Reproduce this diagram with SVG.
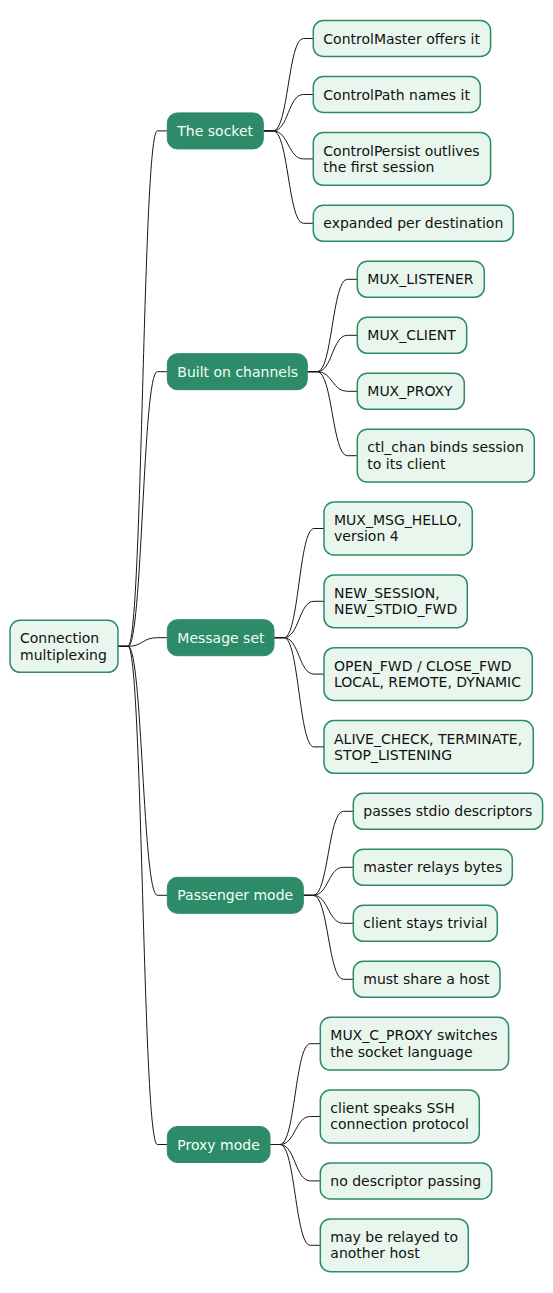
<svg xmlns="http://www.w3.org/2000/svg" width="553" height="1293" viewBox="0 0 553 1293">
<style>
text{font-family:"DejaVu Sans","Liberation Sans",sans-serif;font-size:14px}
.leaf rect,.root rect{fill:#E9F6EE;stroke:#2E8B69;stroke-width:1.5}
.leaf text,.root text{fill:#111111}
.branch rect{fill:#2E8B69;stroke:#2E8B69;stroke-width:1}
.branch text{fill:#F0FFF5}
#connectors path{fill:none;stroke:#181818;stroke-width:1}
</style>
<rect width="553" height="1293" fill="#FFFFFF"/>
<g id="connectors">
<path d="M118,646.3 L128,646.3 C142.6,646.3 142.6,130.9 157.3,130.9 L167.3,130.9"/>
<path d="M118,646.3 L128,646.3 C142.6,646.3 142.6,371.7 157.3,371.7 L167.3,371.7"/>
<path d="M118,646.3 L128,646.3 C142.6,646.3 142.6,637.7 157.3,637.7 L167.3,637.7"/>
<path d="M118,646.3 L128,646.3 C142.6,646.3 142.6,895.3 157.3,895.3 L167.3,895.3"/>
<path d="M118,646.3 L128,646.3 C142.6,646.3 142.6,1144.5 157.3,1144.5 L167.3,1144.5"/>
<path d="M263.3,130.9 L273.3,130.9 C288.3,130.9 288.3,38.5 303.3,38.5 L313.3,38.5"/>
<path d="M263.3,130.9 L273.3,130.9 C288.3,130.9 288.3,94.5 303.3,94.5 L313.3,94.5"/>
<path d="M263.3,130.9 L273.3,130.9 C288.3,130.9 288.3,158.9 303.3,158.9 L313.3,158.9"/>
<path d="M263.3,130.9 L273.3,130.9 C288.3,130.9 288.3,223.3 303.3,223.3 L313.3,223.3"/>
<path d="M307.3,371.7 L317.3,371.7 C332.3,371.7 332.3,279.3 347.3,279.3 L357.3,279.3"/>
<path d="M307.3,371.7 L317.3,371.7 C332.3,371.7 332.3,335.3 347.3,335.3 L357.3,335.3"/>
<path d="M307.3,371.7 L317.3,371.7 C332.3,371.7 332.3,391.3 347.3,391.3 L357.3,391.3"/>
<path d="M307.3,371.7 L317.3,371.7 C332.3,371.7 332.3,455.7 347.3,455.7 L357.3,455.7"/>
<path d="M274,637.7 L284,637.7 C299,637.7 299,528.5 314,528.5 L324,528.5"/>
<path d="M274,637.7 L284,637.7 C299,637.7 299,601.3 314,601.3 L324,601.3"/>
<path d="M274,637.7 L284,637.7 C299,637.7 299,674.1 314,674.1 L324,674.1"/>
<path d="M274,637.7 L284,637.7 C299,637.7 299,746.9 314,746.9 L324,746.9"/>
<path d="M303.3,895.3 L313.3,895.3 C328.3,895.3 328.3,811.3 343.3,811.3 L353.3,811.3"/>
<path d="M303.3,895.3 L313.3,895.3 C328.3,895.3 328.3,867.3 343.3,867.3 L353.3,867.3"/>
<path d="M303.3,895.3 L313.3,895.3 C328.3,895.3 328.3,923.3 343.3,923.3 L353.3,923.3"/>
<path d="M303.3,895.3 L313.3,895.3 C328.3,895.3 328.3,979.3 343.3,979.3 L353.3,979.3"/>
<path d="M270,1144.5 L280,1144.5 C295.2,1144.5 295.2,1043.7 310.3,1043.7 L320.3,1043.7"/>
<path d="M270,1144.5 L280,1144.5 C295.2,1144.5 295.2,1116.5 310.3,1116.5 L320.3,1116.5"/>
<path d="M270,1144.5 L280,1144.5 C295.2,1144.5 295.2,1180.9 310.3,1180.9 L320.3,1180.9"/>
<path d="M270,1144.5 L280,1144.5 C295.2,1144.5 295.2,1245.3 310.3,1245.3 L320.3,1245.3"/>
</g>
<g id="root" class="root"><rect x="10" y="620.3" width="108" height="52" rx="10"/><text x="20" y="643.3">Connection</text><text x="20" y="659.6">multiplexing</text></g>

<g id="n-socket" class="branch"><rect x="167.3" y="112.9" width="96" height="36" rx="10"/><text x="177.3" y="135.9">The socket</text></g>
<g id="n-channels" class="branch"><rect x="167.3" y="353.7" width="140" height="36" rx="10"/><text x="177.3" y="376.7">Built on channels</text></g>
<g id="n-messages" class="branch"><rect x="167.3" y="619.7" width="106.7" height="36" rx="10"/><text x="177.3" y="642.7">Message set</text></g>
<g id="n-passenger" class="branch"><rect x="167.3" y="877.3" width="136" height="36" rx="10"/><text x="177.3" y="900.3">Passenger mode</text></g>
<g id="n-proxy" class="branch"><rect x="167.3" y="1126.5" width="102.7" height="36" rx="10"/><text x="177.3" y="1149.5">Proxy mode</text></g>

<g id="l-master" class="leaf"><rect x="313.3" y="20.5" width="177.3" height="36" rx="10"/><text x="323.3" y="43.5">ControlMaster offers it</text></g>
<g id="l-path" class="leaf"><rect x="313.3" y="76.5" width="167" height="36" rx="10"/><text x="323.3" y="99.5">ControlPath names it</text></g>
<g id="l-persist" class="leaf"><rect x="313.3" y="132.5" width="177.3" height="52.8" rx="10"/><text x="323.3" y="155.5">ControlPersist outlives</text><text x="323.3" y="171.8">the first session</text></g>
<g id="l-expanded" class="leaf"><rect x="313.3" y="205.3" width="200" height="36" rx="10"/><text x="323.3" y="228.3">expanded per destination</text></g>

<g id="l-listener" class="leaf"><rect x="357.3" y="261.3" width="127" height="36" rx="10"/><text x="367.3" y="284.3">MUX_LISTENER</text></g>
<g id="l-client" class="leaf"><rect x="357.3" y="317.3" width="109.4" height="36" rx="10"/><text x="367.3" y="340.3">MUX_CLIENT</text></g>
<g id="l-proxych" class="leaf"><rect x="357.3" y="373.3" width="107" height="36" rx="10"/><text x="367.3" y="396.3">MUX_PROXY</text></g>
<g id="l-ctlchan" class="leaf"><rect x="357.3" y="429.3" width="177" height="52.8" rx="10"/><text x="367.3" y="452.3">ctl_chan binds session</text><text x="367.3" y="468.6">to its client</text></g>

<g id="l-hello" class="leaf"><rect x="324" y="502.1" width="148.3" height="52.8" rx="10"/><text x="334" y="525.1">MUX_MSG_HELLO,</text><text x="334" y="541.4">version 4</text></g>
<g id="l-newsession" class="leaf"><rect x="324" y="574.9" width="143.3" height="52.8" rx="10"/><text x="334" y="597.9">NEW_SESSION,</text><text x="334" y="614.2">NEW_STDIO_FWD</text></g>
<g id="l-fwd" class="leaf"><rect x="324" y="647.7" width="208.3" height="52.8" rx="10"/><text x="334" y="670.7">OPEN_FWD / CLOSE_FWD</text><text x="334" y="687">LOCAL, REMOTE, DYNAMIC</text></g>
<g id="l-alive" class="leaf"><rect x="324" y="720.5" width="209.3" height="52.8" rx="10"/><text x="334" y="743.5">ALIVE_CHECK, TERMINATE,</text><text x="334" y="759.8">STOP_LISTENING</text></g>

<g id="l-stdio" class="leaf"><rect x="353.3" y="793.3" width="189.3" height="36" rx="10"/><text x="363.3" y="816.3">passes stdio descriptors</text></g>
<g id="l-relays" class="leaf"><rect x="353.3" y="849.3" width="159" height="36" rx="10"/><text x="363.3" y="872.3">master relays bytes</text></g>
<g id="l-trivial" class="leaf"><rect x="353.3" y="905.3" width="144" height="36" rx="10"/><text x="363.3" y="928.3">client stays trivial</text></g>
<g id="l-host" class="leaf"><rect x="353.3" y="961.3" width="146.7" height="36" rx="10"/><text x="363.3" y="984.3">must share a host</text></g>

<g id="l-cproxy" class="leaf"><rect x="320.3" y="1017.3" width="188.3" height="52.8" rx="10"/><text x="330.3" y="1040.3">MUX_C_PROXY switches</text><text x="330.3" y="1056.6">the socket language</text></g>
<g id="l-speaks" class="leaf"><rect x="320.3" y="1090.1" width="159" height="52.8" rx="10"/><text x="330.3" y="1113.1">client speaks SSH</text><text x="330.3" y="1129.4">connection protocol</text></g>
<g id="l-nopass" class="leaf"><rect x="320.3" y="1162.9" width="171.4" height="36" rx="10"/><text x="330.3" y="1185.9">no descriptor passing</text></g>
<g id="l-relayed" class="leaf"><rect x="320.3" y="1218.9" width="148" height="52.8" rx="10"/><text x="330.3" y="1241.9">may be relayed to</text><text x="330.3" y="1258.2">another host</text></g>
</svg>
